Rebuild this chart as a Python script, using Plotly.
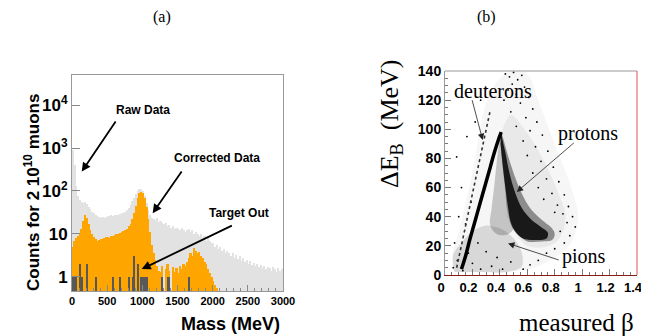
import plotly.graph_objects as go

# the page body keeps its default 8px margin, so the figure is 8px smaller
# on each axis and positions below are given in window pixels
OFF = 8
W, H = 649 - OFF, 336 - OFF

# ---- panel (a): mass spectrum, 25 MeV bins from 0 to 3000 ----
bin_width = 25
mass_bins = [bin_width * (i + 0.5) for i in range(120)]

raw_counts = [
    900, 400, 130, 75, 60, 55, 52, 55, 50, 42,
    38, 33, 30, 28, 26, 25, 24, 25, 24, 25,
    26, 26, 27, 26, 28, 27, 28, 29, 30, 31,
    33, 36, 40, 48, 58, 70, 85, 100, 112, 110,
    98, 78, 52, 36, 27, 24, 22, 21, 23, 19,
    20, 18, 17, 18, 15, 16, 14, 15, 13, 14,
    13, 12, 14, 12, 11, 12, 13, 11, 12, 10,
    11, 10, 9, 10, 8, 9, 7, 8, 7, 6,
    6, 5, 5.5, 4.5, 5, 4, 4.5, 3.5, 4, 3.5,
    3, 3.5, 2.8, 3.2, 2.6, 3, 2.4, 2.8, 2.2, 2.5,
    2.0, 2.3, 1.9, 2.1, 1.8, 2.0, 1.7, 1.9, 1.6, 1.8,
    1.5, 1.7, 1.6, 1.4, 1.7, 1.5, 1.3, 1.6, 1.4, 1.5,
]

corrected_counts = [
    5, 7, 8, 9, 10, 13, 20, 27, 24, 17,
    12, 10, 8.5, 7.5, 7, 7.2, 7.5, 7.8, 8, 8.3,
    8.5, 8.2, 8.8, 9, 9.3, 9.8, 10, 10.5, 11, 11.5,
    12, 13, 15, 17, 22, 30, 45, 68, 90, 95,
    88, 68, 42, 22, 11, 5.5, 3.5, 2.5, 1.8, 1.4,
    1.3, 1.8, 0, 1.5, 2, 1.4, 0, 1.7, 1.3, 1.6,
    1.2, 1.8, 1.5, 2, 1.8, 2.2, 2.8, 3.5, 3, 4.8,
    4, 3.6, 3.8, 3, 2.8, 2.2, 2, 1.5, 1.2, 1,
    0.8, 0.65, 0.55, 0, 0, 0, 0, 0, 0, 0,
    0, 0, 0, 0, 0, 0, 0, 0, 0, 0,
    0, 0, 0, 0, 0, 0, 0, 0, 0, 0,
    0, 0, 0, 0, 0, 0, 0, 0, 0, 0,
]

target_out_mass = [12.5, 37.5, 62.5, 112.5, 137.5, 212.5, 337.5, 587.5, 687.5,
                   812.5, 862.5, 887.5, 937.5, 987.5, 1012.5, 1037.5, 1062.5,
                   1287.5, 1362.5, 1387.5, 1662.5]
target_out_counts = [1, 1, 1, 2, 1, 2, 1, 1, 1, 1, 1, 3, 2, 1, 1, 1, 1, 1, 1, 1, 1]

mass_ticks = [0, 500, 1000, 1500, 2000, 2500, 3000]
count_ticks = [1, 10, 100, 1000, 10000]
count_labels = ["1", "10", "10<sup>2</sup>", "10<sup>3</sup>", "10<sup>4</sup>"]

# ---- panel (b): energy loss vs measured beta ----
beta_ticks = [0, 0.2, 0.4, 0.6, 0.8, 1, 1.2, 1.4]
beta_labels = ["0", "0.2", "0.4", "0.6", "0.8", "1", "1.2", "1.4"]
de_ticks = [0, 20, 40, 60, 80, 100, 120, 140]

ridge_beta = [0.12, 0.15, 0.18, 0.21, 0.24, 0.27, 0.30, 0.33, 0.36, 0.39, 0.41]
ridge_de = [4, 13, 24, 34, 44, 54, 64, 74, 84, 93, 98]

deuteron_beta = [0.085, 0.13, 0.18, 0.23, 0.28, 0.33]
deuteron_de = [5, 25, 45, 68, 90, 113]

envelope_beta = [0.06, 0.05, 0.10, 0.20, 0.30, 0.40, 0.50, 0.60, 0.68, 0.80, 0.92,
                 0.97, 0.92, 0.80, 0.65, 0.45]
envelope_de = [2, 12, 30, 70, 118, 135, 140, 138, 120, 90, 60, 40, 22, 12, 5, 2]

mid_beta = [0.42, 0.48, 0.58, 0.70, 0.82, 0.88, 0.80, 0.60, 0.45]
mid_de = [100, 110, 100, 82, 58, 38, 22, 20, 40]

low_beta = [0.07, 0.06, 0.12, 0.20, 0.30, 0.40, 0.48, 0.55, 0.56, 0.45, 0.30]
low_de = [2, 14, 22, 30, 34, 32, 27, 18, 6, 2, 2]

between_beta = [0.40, 0.38, 0.36, 0.34, 0.33, 0.38, 0.46, 0.50, 0.47, 0.45, 0.43, 0.42]
between_de = [96, 80, 62, 46, 34, 28, 28, 32, 38, 48, 65, 80]

band_beta = [0.41, 0.45, 0.50, 0.56, 0.62, 0.68, 0.73, 0.78, 0.80, 0.78, 0.70,
             0.60, 0.55, 0.50, 0.47, 0.45, 0.44, 0.425, 0.41, 0.40]
band_de = [99, 85, 70, 56, 46, 40, 36, 32, 28, 24, 23, 23, 26, 31, 38, 47, 56,
           70, 85, 95]

core_beta = [0.41, 0.44, 0.47, 0.51, 0.56, 0.63, 0.70, 0.75, 0.74, 0.66, 0.57,
             0.52, 0.48, 0.46, 0.44, 0.42, 0.405]
core_de = [97, 84, 70, 57, 46, 38, 33, 29, 25, 24, 25, 29, 36, 46, 60, 76, 90]

sparse_beta = [0.44, 0.47, 0.50, 0.53, 0.56, 0.49, 0.58, 0.46, 0.52, 0.61, 0.43,
               0.55, 0.64, 0.48, 0.59, 0.67, 0.52, 0.62, 0.71, 0.57, 0.66, 0.75,
               0.60, 0.70, 0.79, 0.64, 0.74, 0.83, 0.68, 0.78, 0.87, 0.72, 0.82,
               0.90, 0.86, 0.93, 0.80, 0.89, 0.95, 0.84, 0.91, 0.87, 0.80, 0.74,
               0.68, 0.62, 0.57, 0.085, 0.10, 0.07, 0.12, 0.16, 0.22, 0.26, 0.30,
               0.19, 0.15, 0.06, 0.09, 0.13, 0.20, 0.26, 0.34, 0.42, 0.48, 0.38,
               0.30, 0.24, 0.17]
sparse_de = [138, 136, 139, 134, 137, 131, 129, 127, 124, 122, 120, 118, 114, 112,
             108, 105, 102, 99, 96, 92, 88, 85, 82, 78, 74, 70, 66, 64, 60, 56, 55,
             52, 48, 47, 42, 40, 43, 36, 33, 30, 27, 22, 18, 15, 10, 7, 4, 81, 40,
             22, 60, 95, 105, 120, 128, 50, 35, 5, 10, 3, 8, 4, 6, 4, 9, 12, 16,
             22, 15]

fig = go.Figure()

# histograms
fig.add_trace(go.Bar(
    x=mass_bins, y=[v if v > 0 else None for v in raw_counts], width=bin_width,
    marker=dict(color="#e2e2e2", line=dict(width=0)), xaxis="x", yaxis="y",
))
fig.add_trace(go.Bar(
    x=mass_bins, y=[v if v > 0 else None for v in corrected_counts], width=bin_width,
    marker=dict(color="#ffa500", line=dict(width=0)), xaxis="x", yaxis="y",
))
fig.add_trace(go.Bar(
    x=target_out_mass, y=target_out_counts, width=17,
    marker=dict(color="#585858", line=dict(width=0)), xaxis="x", yaxis="y",
))

# scatter panel, built from light to dark
def blob(bx, by, rgba):
    fig.add_trace(go.Scatter(
        x=bx, y=by, mode="lines", fill="toself", fillcolor=rgba,
        line=dict(width=0, shape="spline"), xaxis="x2", yaxis="y2", hoverinfo="skip",
    ))

blob(envelope_beta, envelope_de, "rgba(0,0,0,0.035)")
blob(mid_beta, mid_de, "rgba(0,0,0,0.05)")
blob(low_beta, low_de, "rgba(0,0,0,0.12)")
blob(between_beta, between_de, "rgba(0,0,0,0.2)")
blob(band_beta, band_de, "rgba(0,0,0,0.4)")
blob(core_beta, core_de, "rgba(0,0,0,0.82)")

fig.add_trace(go.Scatter(
    x=sparse_beta, y=sparse_de, mode="markers",
    marker=dict(size=1.8, color="#000"), xaxis="x2", yaxis="y2",
))
fig.add_trace(go.Scatter(
    x=deuteron_beta, y=deuteron_de, mode="lines",
    line=dict(color="#333", width=1.6, dash="dot"), xaxis="x2", yaxis="y2",
))
fig.add_trace(go.Scatter(
    x=ridge_beta, y=ridge_de, mode="lines", line=dict(color="#000", width=3.5),
    line_shape="spline", xaxis="x2", yaxis="y2",
))

def px(x):
    return (x - OFF) / W

def py(y):
    return 1 - (y - OFF) / H

bold = dict(family="Liberation Sans, Arial", color="#000", weight="bold")
serif = dict(family="Liberation Serif, Times New Roman", color="#000")

fig.update_layout(
    width=W, height=H, margin=dict(l=0, r=0, t=0, b=0),
    paper_bgcolor="white", plot_bgcolor="white",
    showlegend=False, barmode="overlay", bargap=0,
    xaxis=dict(
        domain=[px(72), px(283)], range=[0, 3000], anchor="y", automargin=False,
        tickvals=mass_ticks, ticks="inside", ticklen=6, tickcolor="#888",
        tickfont=dict(size=11, **bold), showgrid=False, zeroline=False,
        showline=True, linecolor="#999", linewidth=1, mirror=True,
        minor=dict(ticks="inside", ticklen=3, dtick=100, tickcolor="#888"),
    ),
    yaxis=dict(
        domain=[py(291), py(75)], type="log", range=[-0.33, 4.70], anchor="x",
        automargin=False,
        tickvals=count_ticks, ticktext=count_labels, ticks="inside", ticklen=8,
        tickcolor="#888", tickfont=dict(size=17, **bold), showgrid=False,
        zeroline=False, showline=True, linecolor="#999", linewidth=1, mirror=True,
    ),
    xaxis2=dict(
        domain=[px(445), px(637)], range=[0, 1.4], anchor="y2", automargin=False,
        tickvals=beta_ticks, ticktext=beta_labels, ticklabeloverflow="allow",
        ticklabelshift=-4,
        ticks="inside", ticklen=6, tickcolor="#777", tickfont=dict(size=13, **bold),
        showgrid=False, zeroline=False, showline=True, linecolor="#8b1a1a", linewidth=1,
        minor=dict(ticks="inside", ticklen=3, dtick=0.05, tickcolor="#777"),
    ),
    yaxis2=dict(
        domain=[py(275), py(71)], range=[0, 140], anchor="x2", automargin=False,
        tickvals=de_ticks, ticks="inside", ticklen=6, tickcolor="#777",
        tickfont=dict(size=14, **bold), showgrid=False, zeroline=False,
        showline=True, linecolor="#999", linewidth=1,
        minor=dict(ticks="inside", ticklen=3, dtick=5, tickcolor="#777"),
    ),
    shapes=[
        dict(type="line", xref="paper", yref="paper", x0=px(445), x1=px(637),
             y0=py(71), y1=py(71), line=dict(color="#999", width=1)),
        dict(type="line", xref="paper", yref="paper", x0=px(637), x1=px(637),
             y0=py(71), y1=py(275), line=dict(color="#e05050", width=1)),
    ],
)

ann = []

def paper_text(text, x, y, font, xanchor="center", angle=0):
    ann.append(dict(text=text, x=px(x), y=py(y), xref="paper", yref="paper",
                    xanchor=xanchor, yanchor="middle", showarrow=False,
                    textangle=angle, font=font))

# panel labels and axis titles
paper_text("(a)", 162, 17, dict(size=16, **serif))
paper_text("(b)", 487, 17, dict(size=16, **serif))
paper_text("Counts for 2 10<sup>10</sup> muons", 32, 193, dict(size=17, **bold), angle=-90)
paper_text("Mass (MeV)", 282, 324, dict(size=18, **bold), xanchor="right")
paper_text("\u0394E<sub>B</sub>\u00a0\u00a0(MeV)", 391, 124, dict(size=26, **serif), angle=-90)
paper_text("measured \u03b2", 636, 322, dict(size=25, **serif), xanchor="right")

# panel (a) labels with arrows (log axis positions in log10 units)
for text, tx, ty in [("Raw Data", 1010, 3.88), ("Corrected Data", 2057, 2.76),
                     ("Target Out", 2380, 1.48)]:
    ann.append(dict(text=text, x=tx, y=ty, xref="x", yref="y", showarrow=False,
                    font=dict(size=12, **bold)))
for tail_x, tail_y, tip_x, tip_y in [(635, 3.65, 138, 2.45), (1574, 2.49, 1147, 1.48),
                                     (2294, 1.21, 991, 0.18)]:
    ann.append(dict(text="", x=tip_x, y=tip_y, ax=tail_x, ay=tail_y, xref="x", yref="y",
                    axref="x", ayref="y", showarrow=True, arrowhead=2, arrowsize=1,
                    arrowwidth=1.8, arrowcolor="#000"))

# panel (b) labels with arrows
for text, tx, ty in [("deuterons", 0.347, 126.5), ("protons", 1.04, 97),
                     ("pions", 1.01, 12.6)]:
    ann.append(dict(text=text, x=tx, y=ty, xref="x2", yref="y2", showarrow=False,
                    font=dict(size=20, **serif)))
for tail_x, tail_y, tip_x, tip_y in [(0.195, 121, 0.275, 92.6), (0.95, 91.5, 0.523, 57),
                                     (0.84, 10, 0.46, 21.7)]:
    ann.append(dict(text="", x=tip_x, y=tip_y, ax=tail_x, ay=tail_y, xref="x2", yref="y2",
                    axref="x2", ayref="y2", showarrow=True, arrowhead=2, arrowsize=1.6,
                    arrowwidth=0.8, arrowcolor="#222"))

fig.update_layout(annotations=ann)

fig.write_html("out.html")
